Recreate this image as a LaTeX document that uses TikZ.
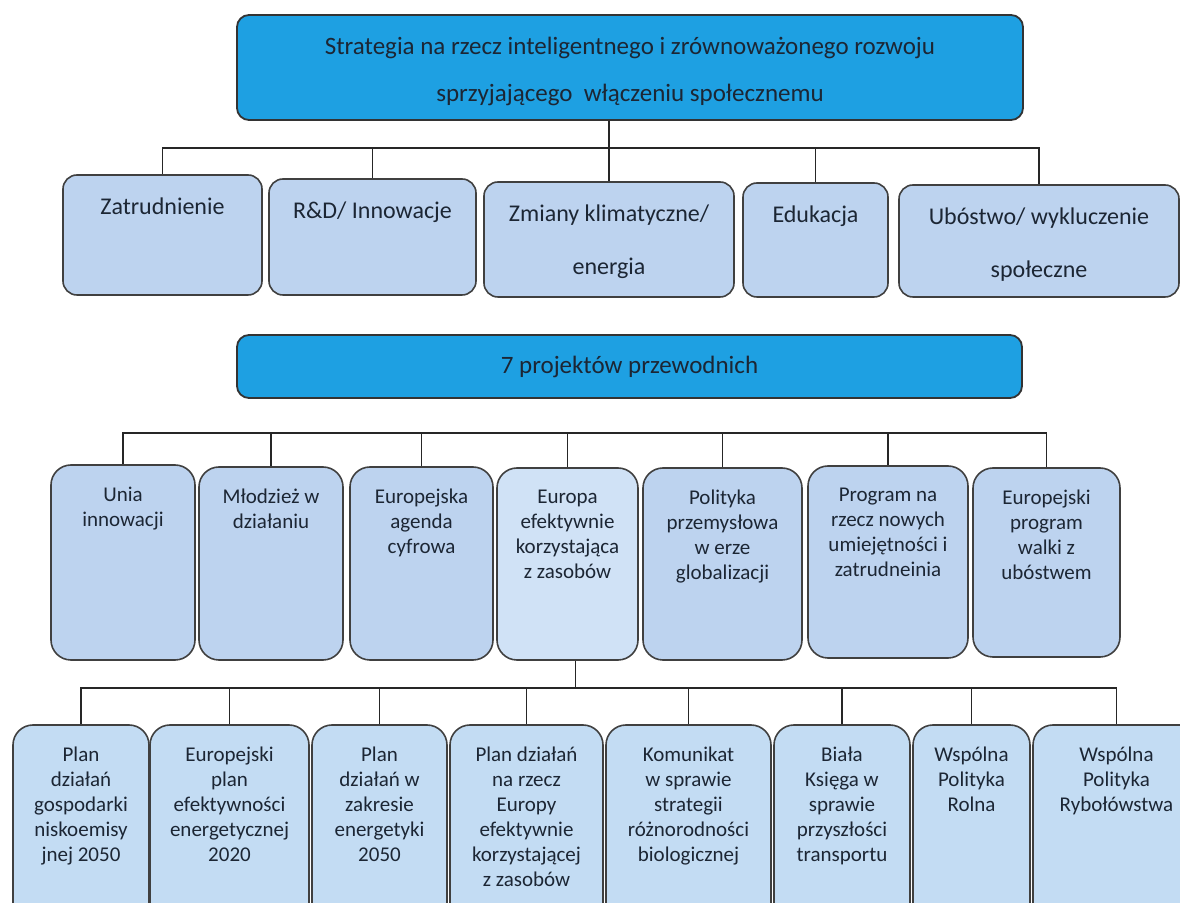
\documentclass[tikz,border=0pt]{standalone}
\usepackage{fontspec}
\setmainfont{Carlito}
\usetikzlibrary{positioning,fit}

\definecolor{pasek}{RGB}{30,160,226}
\definecolor{komorka}{RGB}{189,211,239}
\definecolor{komorkajasna}{RGB}{208,226,246}
\definecolor{dolna}{RGB}{195,220,243}
\definecolor{tusz}{RGB}{28,38,52}

\begin{document}
\begin{tikzpicture}[x=0.5pt, y=-0.5pt,
    pasekbox/.style={draw=black!80, line width=0.9pt, fill=pasek, rounded corners=6pt, inner sep=0pt},
    pasektxt/.style={inner sep=0pt, align=center, text=tusz, font=\fontsize{12.5}{23.5}\selectfont},
    celA/.style={draw=black!75, line width=0.8pt, fill=komorka, rounded corners=7pt, inner sep=0pt},
    celB/.style={draw=black!75, line width=0.8pt, fill=komorka, rounded corners=10pt, inner sep=0pt},
    celC/.style={draw=black!75, line width=0.8pt, fill=dolna, rounded corners=10pt, inner sep=0pt},
    txtA/.style={inner sep=0pt, align=center, text=tusz, font=\fontsize{12}{26.5}\selectfont},
    txtB/.style={inner sep=0pt, align=center, text=tusz, font=\fontsize{10.5}{12.5}\selectfont},
    link/.style={draw=black!85, line width=0.8pt}]

    % Ramka obrazka (dolny rząd jest ucięty)
    \useasboundingbox (0,0) rectangle (1180,903);
    \clip (0,0) rectangle (1180,903);

    % Strategia
    \node[pasekbox, fit={(237,15) (1023,120)}] (strat) {};
    \node[pasektxt, yshift=-2pt] (stratT) at (strat.center)
        {Strategia na rzecz inteligentnego i zrównoważonego rozwoju\\ sprzyjającego\ \ włączeniu społecznemu};

    % Pięć obszarów
    \node[celA, fit={(63,175) (262,295)}] (zat) {};
    \node[celA, fit={(269,179) (476,295)}] (rd) {};
    \node[celA, fit={(484,182) (734,297)}] (zmi) {};
    \node[celA, fit={(743,183) (888,297)}] (edu) {};
    \node[celA, fit={(899,185) (1179,297)}] (ubo) {};

    \node[txtA, below=11.5pt of zat.north] (zatT) {Zatrudnienie};
    \node[txtA, below=11.5pt of rd.north] (rdT) {R\&D/ Innowacje};
    \node[txtA, below=11.5pt of zmi.north] (zmiT) {Zmiany klimatyczne/\\ energia};
    \node[txtA, below=11.5pt of edu.north] (eduT) {Edukacja};
    \node[txtA, below=11.5pt of ubo.north] (uboT) {Ubóstwo/ wykluczenie\\ społeczne};

    % Połączenia strategii z obszarami
    \coordinate (szyna1) at (0,148);
    \draw[link] (strat.south -| zmi.north) -- (zmi.north);
    \draw[link] (zat.north) -- (zat.north |- szyna1) -- (ubo.north |- szyna1) -- (ubo.north);
    \draw[link] (rd.north) -- (rd.north |- szyna1);
    \draw[link] (edu.north) -- (edu.north |- szyna1);

    % Projekty przewodnie
    \node[pasekbox, fit={(237,335) (1022,398)}] (proj) {};
    \node[pasektxt] (projT) at (proj.center) {7 projektów przewodnich};

    \node[celB, fit={(51,465) (195,660)}] (uni) {};
    \node[celB, fit={(199,467) (343,660)}] (mlo) {};
    \node[celB, fit={(350,467) (493,660)}] (agd) {};
    \node[celB, fit={(497,468) (638,660)}, fill=komorkajasna] (eur) {};
    \node[celB, fit={(643,468) (802,660)}] (pol) {};
    \node[celB, fit={(808,466) (968,658)}] (prg) {};
    \node[celB, fit={(973,468) (1120,657)}] (wal) {};

    \node[txtB, below=11pt of uni.north] (uniT) {Unia\\ innowacji};
    \node[txtB, below=11pt of mlo.north] (mloT) {Młodzież w\\ działaniu};
    \node[txtB, below=11pt of agd.north] (agdT) {Europejska\\ agenda\\ cyfrowa};
    \node[txtB, below=11pt of eur.north] (eurT) {Europa\\ efektywnie\\ korzystająca\\ z zasobów};
    \node[txtB, below=11pt of pol.north] (polT) {Polityka\\ przemysłowa\\ w erze\\ globalizacji};
    \node[txtB, below=11pt of prg.north] (prgT) {Program na\\ rzecz nowych\\ umiejętności i\\ zatrudneinia};
    \node[txtB, below=11pt of wal.north] (walT) {Europejski\\ program\\ walki z\\ ubóstwem};

    % Szyna nad projektami
    \coordinate (szyna2) at (0,433);
    \draw[link] (uni.north) -- (uni.north |- szyna2) -- (wal.north |- szyna2) -- (wal.north);
    \draw[link] (mlo.north) -- (mlo.north |- szyna2);
    \draw[link] (agd.north) -- (agd.north |- szyna2);
    \draw[link] (eur.north) -- (eur.north |- szyna2);
    \draw[link] (pol.north) -- (pol.north |- szyna2);
    \draw[link] (prg.north) -- (prg.north |- szyna2);

    % Dokumenty pod projektem Europa efektywnie korzystająca z zasobów
    \node[celC, fit={(13,725) (149,925)}] (nis) {};
    \node[celC, fit={(150,725) (309,925)}] (epe) {};
    \node[celC, fit={(312,725) (447,925)}] (ene) {};
    \node[celC, fit={(450,725) (603,925)}] (pde) {};
    \node[celC, fit={(606,725) (771,925)}] (kom) {};
    \node[celC, fit={(774,725) (910,925)}] (bia) {};
    \node[celC, fit={(913,725) (1030,925)}] (wpr) {};
    \node[celC, fit={(1033,725) (1200,925)}] (wpry) {};

    \node[txtB, below=11pt of nis.north] (nisT) {Plan\\ działań\\ gospodarki\\ niskoemisy\\ jnej 2050};
    \node[txtB, below=11pt of epe.north] (epeT) {Europejski\\ plan\\ efektywności\\ energetycznej\\ 2020};
    \node[txtB, below=11pt of ene.north] (eneT) {Plan\\ działań w\\ zakresie\\ energetyki\\ 2050};
    \node[txtB, below=11pt of pde.north] (pdeT) {Plan działań\\ na rzecz\\ Europy\\ efektywnie\\ korzystającej\\ z zasobów};
    \node[txtB, below=11pt of kom.north] (komT) {Komunikat\\ w sprawie\\ strategii\\ różnorodności\\ biologicznej};
    \node[txtB, below=11pt of bia.north] (biaT) {Biała\\ Księga w\\ sprawie\\ przyszłości\\ transportu};
    \node[txtB, below=11pt of wpr.north] (wprT) {Wspólna\\ Polityka\\ Rolna};
    \node[txtB, below=11pt of wpry.north] (wpryT) {Wspólna\\ Polityka\\ Rybołówstwa};

    % Szyna nad dokumentami
    \coordinate (szyna3) at (0,688);
    \draw[link] ([xshift=4pt]eur.south) -- ([xshift=4pt]eur.south |- szyna3);
    \draw[link] (nis.north) -- (nis.north |- szyna3) -- (wpry.north |- szyna3) -- (wpry.north);
    \draw[link] (epe.north) -- (epe.north |- szyna3);
    \draw[link] (ene.north) -- (ene.north |- szyna3);
    \draw[link] (pde.north) -- (pde.north |- szyna3);
    \draw[link] (kom.north) -- (kom.north |- szyna3);
    \draw[link] (bia.north) -- (bia.north |- szyna3);
    \draw[link] (wpr.north) -- (wpr.north |- szyna3);
\end{tikzpicture}
\end{document}
